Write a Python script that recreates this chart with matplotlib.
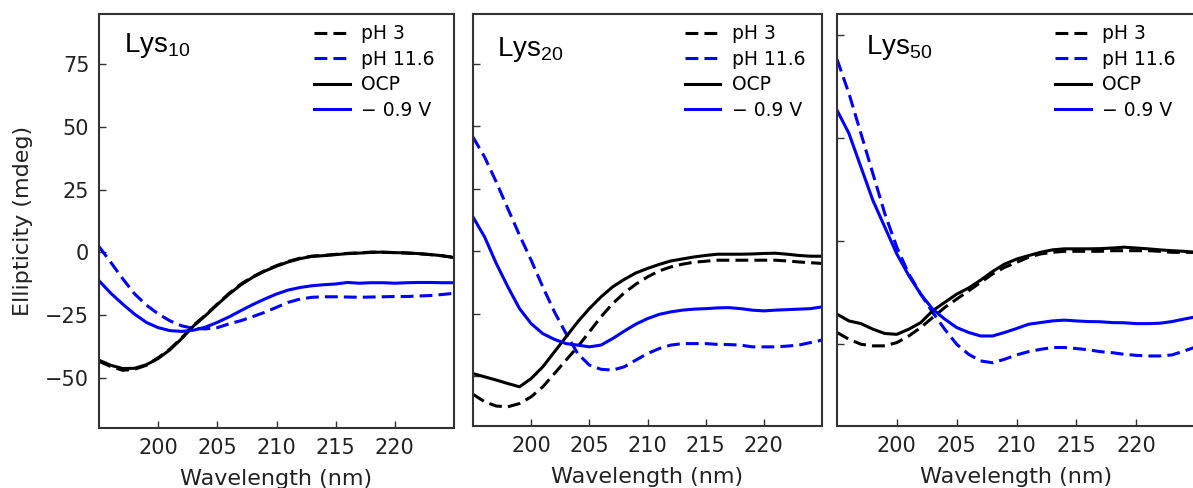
import matplotlib
matplotlib.use("Agg")
import matplotlib.pyplot as plt

# ---------------- data ----------------
wavelength = [195, 196, 197, 198, 199, 200, 201, 202, 203, 204, 205, 206, 207, 208, 209, 210,
              211, 212, 213, 214, 215, 216, 217, 218, 219, 220, 221, 222, 223, 224, 225]

panel_titles = ["Lys$_\\mathregular{10}$", "Lys$_\\mathregular{20}$", "Lys$_\\mathregular{50}$"]
series_labels = ["pH 3", "pH 11.6", "OCP", "\u2212 0.9 V"]

# Lys10
lys10_ph3 = [-43.4, -45.5, -47.0, -46.6, -45.0, -42.0, -38.5, -34.0, -29.0, -25.0, -20.6, -16.3, -12.6, -9.7, -7.3, -5.3,
             -3.6, -2.3, -1.5, -1.2, -0.8, -0.4, -0.2, 0.1, 0.0, -0.1, -0.3, -0.5, -0.9, -1.4, -2.0]
lys10_ph116 = [2.3, -4.0, -10.5, -16.5, -21.0, -24.5, -27.3, -29.3, -30.3, -30.5, -30.0, -28.5, -27.2, -25.6, -23.9, -21.9,
               -19.9, -18.6, -17.9, -17.7, -17.7, -17.8, -17.9, -17.8, -17.7, -17.6, -17.6, -17.4, -17.2, -16.8, -16.3]
lys10_ocp = [-43.0, -45.0, -46.3, -46.2, -44.8, -42.3, -38.8, -34.3, -29.3, -25.2, -20.8, -16.6, -12.9, -9.9, -7.5, -5.5,
             -3.8, -2.5, -1.6, -1.3, -0.9, -0.5, -0.3, 0.0, 0.1, -0.1, -0.2, -0.5, -0.9, -1.3, -2.1]
lys10_m09 = [-11.3, -16.3, -20.6, -24.6, -27.9, -30.0, -31.2, -31.5, -31.0, -29.8, -27.9, -25.7, -23.2, -20.8, -18.6, -16.6,
             -15.0, -14.0, -13.3, -12.9, -12.6, -12.0, -12.3, -12.1, -12.1, -12.3, -12.1, -12.0, -12.0, -12.1, -12.1]

# Lys20
lys20_ph3 = [-57.3, -60.3, -62.0, -62.3, -61.0, -58.3, -54.3, -49.0, -43.6, -38.3, -32.3, -26.3, -21.0, -16.7, -13.2, -10.3,
             -7.9, -6.3, -5.2, -4.4, -4.0, -3.6, -3.6, -3.6, -3.6, -3.6, -3.6, -3.9, -4.3, -4.6, -4.9]
lys20_ph116 = [45.7, 37.7, 27.7, 17.0, 6.4, -3.6, -14.3, -24.3, -33.0, -41.0, -45.6, -47.3, -47.6, -46.3, -43.6, -41.0,
               -39.0, -37.6, -37.0, -37.0, -37.0, -37.3, -37.4, -37.6, -38.3, -38.3, -38.3, -38.0, -37.6, -36.6, -35.6]
lys20_ocp = [-49.0, -50.3, -51.6, -53.0, -54.3, -51.0, -46.3, -40.3, -34.3, -28.3, -23.0, -18.3, -14.3, -11.3, -8.7, -6.9,
             -5.3, -3.9, -3.1, -2.3, -1.7, -1.2, -1.2, -1.2, -1.1, -0.9, -0.8, -1.2, -1.7, -2.0, -2.0]
lys20_m09 = [13.7, 5.7, -4.9, -14.3, -23.0, -29.0, -33.0, -35.3, -37.0, -37.6, -38.3, -37.6, -35.0, -32.0, -29.2, -27.0,
             -25.3, -24.3, -23.6, -23.2, -23.0, -22.7, -22.6, -23.0, -23.6, -23.9, -23.6, -23.4, -23.2, -23.0, -22.3]

# Lys50
lys50_ph3 = [-44.6, -47.9, -50.3, -51.1, -51.1, -49.5, -46.3, -42.2, -37.3, -32.5, -28.4, -24.4, -20.3, -16.2, -13.0, -10.6,
             -8.1, -6.5, -5.7, -5.2, -5.2, -5.2, -5.2, -4.9, -4.9, -4.9, -4.9, -5.2, -5.7, -5.7, -5.7]
lys50_ph116 = [88.0, 71.4, 52.0, 32.5, 13.0, -3.2, -16.2, -26.0, -34.9, -43.0, -50.3, -55.2, -58.4, -59.3, -57.6, -55.5,
               -53.9, -52.8, -51.9, -51.9, -52.4, -53.0, -53.9, -54.4, -55.2, -55.7, -56.0, -56.0, -55.5, -53.6, -51.6]
lys50_ocp = [-35.7, -39.0, -40.3, -43.0, -45.1, -45.5, -43.0, -39.8, -34.0, -30.0, -26.0, -23.0, -19.2, -15.0, -11.4, -9.0,
             -7.3, -5.7, -4.5, -4.0, -4.0, -4.0, -3.9, -3.6, -3.2, -3.6, -4.0, -4.5, -4.9, -5.2, -5.7]
lys50_m09 = [63.3, 52.0, 35.7, 19.5, 6.5, -6.5, -17.0, -26.0, -33.3, -38.1, -42.2, -44.6, -46.3, -46.3, -44.6, -42.7,
             -40.6, -39.8, -39.0, -38.6, -39.0, -39.3, -39.4, -39.8, -39.9, -40.3, -40.3, -40.1, -39.3, -38.1, -37.0]

panels = [
    (lys10_ph3, lys10_ph116, lys10_ocp, lys10_m09),
    (lys20_ph3, lys20_ph116, lys20_ocp, lys20_m09),
    (lys50_ph3, lys50_ph116, lys50_ocp, lys50_m09),
]
xticks = [200, 205, 210, 215, 220]
yticks_12 = [-50, -25, 0, 25, 50, 75]
yticks_3 = [-50, 0, 50, 100]

# ---------------- figure ----------------
W, H = 1193, 488
fig = plt.figure(figsize=(W / 100, H / 100), dpi=100)
plt.rcParams['mathtext.fontset'] = 'dejavusans'

def px_axes(l, r, t, b):
    return [l / W, 1 - b / H, (r - l) / W, (b - t) / H]

boxes = [px_axes(99, 454, 14, 428), px_axes(473, 822, 14, 426), px_axes(837, 1196, 14, 426)]
ylims = [(-70, 95), (-70, 95), (-90, 110)]
title_pos = [(0.07, 0.96), (0.069, 0.948), (0.081, 0.953)]

styles = [
    dict(color='black', ls=(0, (4.2, 2.0))),
    dict(color='#0000ff', ls=(0, (4.2, 2.0))),
    dict(color='black', ls='-'),
    dict(color='#0000ff', ls='-'),
]
spine_col = '#333333'

for i, (box, data) in enumerate(zip(boxes, panels)):
    ax = fig.add_axes(box)
    for ys, st, lab in zip(data, styles, series_labels):
        ax.plot(wavelength, ys, lw=2.2, label=lab, **st)
    ax.set_xlim(195, 225)
    ax.set_ylim(*ylims[i])
    ax.set_xticks(xticks)
    ax.set_yticks(yticks_3 if i == 2 else yticks_12)
    ax.tick_params(direction='in', length=5, width=1.0, color=spine_col,
                   labelsize=15, labelcolor='#222222', pad=7, top=False, right=False)
    if i != 0:
        ax.tick_params(axis='y', labelleft=False)
    else:
        ax.set_ylabel("Ellipticity (mdeg)", fontsize=16, color='#222222', labelpad=8.5)
    ax.set_xlabel("Wavelength (nm)", fontsize=16, color='#222222', labelpad=8)
    for s in ax.spines.values():
        s.set_color(spine_col)
        s.set_linewidth(1.5)
    ax.text(title_pos[i][0], title_pos[i][1], panel_titles[i], transform=ax.transAxes,
            ha='left', va='top', fontsize=20, family='Liberation Sans', color='black')
    ax.legend(loc='upper left', bbox_to_anchor=(0.607, 0.975), frameon=False, fontsize=13.5,
              handlelength=1.9, handletextpad=0.6, labelspacing=0.35, borderpad=0, borderaxespad=0)

fig.savefig("out.png", dpi=100)
